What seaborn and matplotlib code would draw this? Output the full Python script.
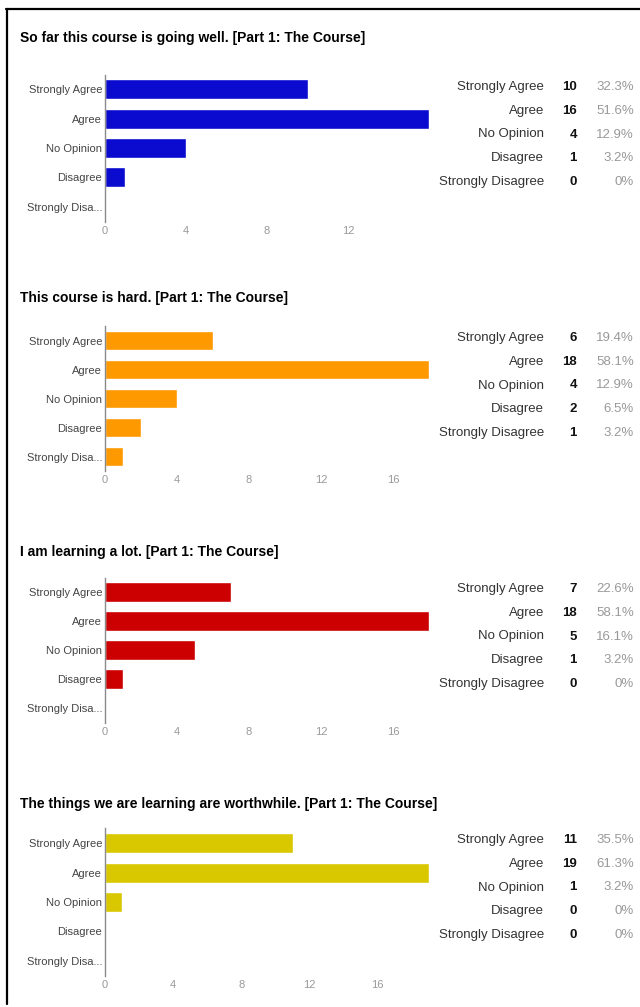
import matplotlib
matplotlib.use("Agg")
import matplotlib.pyplot as plt
import seaborn as sns
from matplotlib.lines import Line2D

# ---- data ----
categories = ["Strongly Agree", "Agree", "No Opinion", "Disagree", "Strongly Disagree"]
axis_labels = ["Strongly Agree", "Agree", "No Opinion", "Disagree", "Strongly Disa..."]

titles = [
    "So far this course is going well. [Part 1: The Course]",
    "This course is hard. [Part 1: The Course]",
    "I am learning a lot. [Part 1: The Course]",
    "The things we are learning are worthwhile. [Part 1: The Course]",
]
counts_q1 = [10, 16, 4, 1, 0]
counts_q2 = [6, 18, 4, 2, 1]
counts_q3 = [7, 18, 5, 1, 0]
counts_q4 = [11, 19, 1, 0, 0]
pct_q1 = ["32.3%", "51.6%", "12.9%", "3.2%", "0%"]
pct_q2 = ["19.4%", "58.1%", "12.9%", "6.5%", "3.2%"]
pct_q3 = ["22.6%", "58.1%", "16.1%", "3.2%", "0%"]
pct_q4 = ["35.5%", "61.3%", "3.2%", "0%", "0%"]
xticks_q1 = [0, 4, 8, 12]
xticks_q2 = [0, 4, 8, 12, 16]
xticks_q3 = [0, 4, 8, 12, 16]
xticks_q4 = [0, 4, 8, 12, 16]

counts = [counts_q1, counts_q2, counts_q3, counts_q4]
pcts = [pct_q1, pct_q2, pct_q3, pct_q4]
xticks = [xticks_q1, xticks_q2, xticks_q3, xticks_q4]

# ---- style ----
colors = ["#0b0bcf", "#ff9900", "#cc0000", "#d9c800"]
xmax = [16, 18, 18, 19]
band_top = [74.5, 326.0, 577.5, 828.5]
band_bot = [221.5, 471.0, 722.5, 975.5]
title_y = [38, 298, 552, 804]
table_y0 = [87, 338, 589, 840]
row_gap = 23.75

sns.set_style("white")
plt.rcParams["font.family"] = ["Liberation Sans", "DejaVu Sans"]

W, H = 640, 1007
fig = plt.figure(figsize=(W / 100, H / 100), dpi=100)
fig.patch.set_facecolor("white")

X0, X1 = 105, 429
for i in range(4):
    y0, y1 = band_top[i], band_bot[i]
    ax = fig.add_axes([X0 / W, 1 - y1 / H, (X1 - X0) / W, (y1 - y0) / H])
    sns.barplot(x=counts[i], y=axis_labels, orient="h", color=colors[i],
                width=0.68, saturation=1, ax=ax)
    ax.set_xlim(0, xmax[i])
    ax.set_ylim(4.5, -0.5)
    ax.set_xticks(xticks[i])
    ax.set_xlabel("")
    ax.set_ylabel("")
    for s in ["top", "right", "bottom"]:
        ax.spines[s].set_visible(False)
    ax.spines["left"].set_color("#8a8a8a")
    ax.spines["left"].set_linewidth(1.0)
    ax.tick_params(axis="y", length=0, pad=2, labelsize=8, labelcolor="#444444")
    ax.tick_params(axis="x", length=0, pad=3, labelsize=8, labelcolor="#999999")
    ax.set_facecolor("none")

    fig.text(20 / W, 1 - title_y[i] / H, titles[i], fontsize=10, fontweight="bold",
             color="black", ha="left", va="center")

    for r in range(5):
        yy = 1 - (table_y0[i] + r * row_gap) / H
        fig.text(544 / W, yy, categories[r], fontsize=9.5, color="#333333",
                 ha="right", va="center")
        fig.text(577 / W, yy, str(counts[i][r]), fontsize=9.5, fontweight="bold",
                 color="#111111", ha="right", va="center")
        fig.text(634 / W, yy, pcts[i][r], fontsize=9.5, color="#999999",
                 ha="right", va="center")

# frame lines
fig.add_artist(Line2D([7 / W, 7 / W], [0.003, 1 - 8.5 / H], transform=fig.transFigure,
                      color="black", lw=1.6))
fig.add_artist(Line2D([6.3 / W, 1.0], [1 - 9 / H, 1 - 9 / H], transform=fig.transFigure,
                      color="black", lw=1.6))

fig.savefig("out.png", dpi=100, facecolor="white")
